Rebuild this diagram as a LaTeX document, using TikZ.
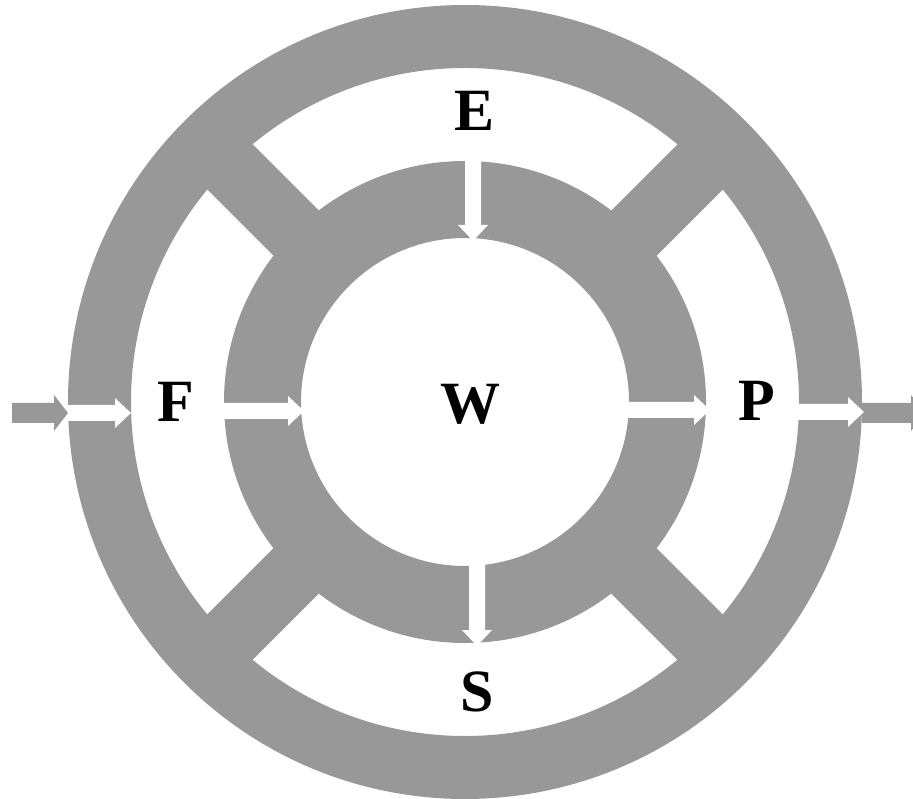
\documentclass[tikz,border=0pt]{standalone}
\usepackage{fontspec}
\setmainfont{Liberation Serif}
\usetikzlibrary{calc}
\begin{document}
\begin{tikzpicture}[x=1pt,y=-1pt,
  lbl/.style={inner sep=0pt,font=\fontsize{60}{60}\selectfont\bfseries},
  pics/cutarrow/.style args={#1/#2}{code={
    \fill[#2] (0,-8) -- ({#1-16},-8) -- ({#1-16},-15) -- (#1,0) -- ({#1-16},15) -- ({#1-16},8) -- (0,8) -- cycle;}},
  pics/grayarrow/.style={code={
    \fill[ringgray] (0,-10) -- ({#1-14},-10) -- ({#1-14},-18) -- (#1,0) -- ({#1-14},18) -- ({#1-14},10) -- (0,10) -- cycle;}}
]
\definecolor{ringgray}{RGB}{152,152,152}
\useasboundingbox (0,0) rectangle (913,799);
\clip (0,0) rectangle (913,799);
\coordinate (c) at (465,402);
% rings
\fill[ringgray,even odd rule] (c) circle[radius=397pt] (c) circle[radius=334pt];
\fill[ringgray,even odd rule] (c) circle[radius=241pt] (c) circle[radius=164pt];
% diagonal spokes
\foreach \a in {45,135,225,315}{
  \fill[ringgray,rotate around={\a:(c)}] ($(c)+(200,-32)$) rectangle ($(c)+(360,32)$);
}
% outside gray arrows
\pic at (12,413) {grayarrow=56};
\pic at (862,413) {grayarrow=63};
% white cut-out arrows
\pic[rotate=-90] at (473,160) {cutarrow=81/white};
\pic[rotate=-90] at (477,562) {cutarrow=84/white};
\pic at (224,411) {cutarrow=80/white};
\pic at (628,410) {cutarrow=82/white};
\pic at (68,413) {cutarrow=63/white};
\pic at (798,412) {cutarrow=66/white};
% labels
\node[lbl] (E) at (475,111) {E};
\node[lbl] (F) at (176,402) {F};
\node[lbl] (W) at (470,404) {W};
\node[lbl] (P) at (757,401) {P};
\node[lbl] (S) at (477,692) {S};
\end{tikzpicture}
\end{document}
